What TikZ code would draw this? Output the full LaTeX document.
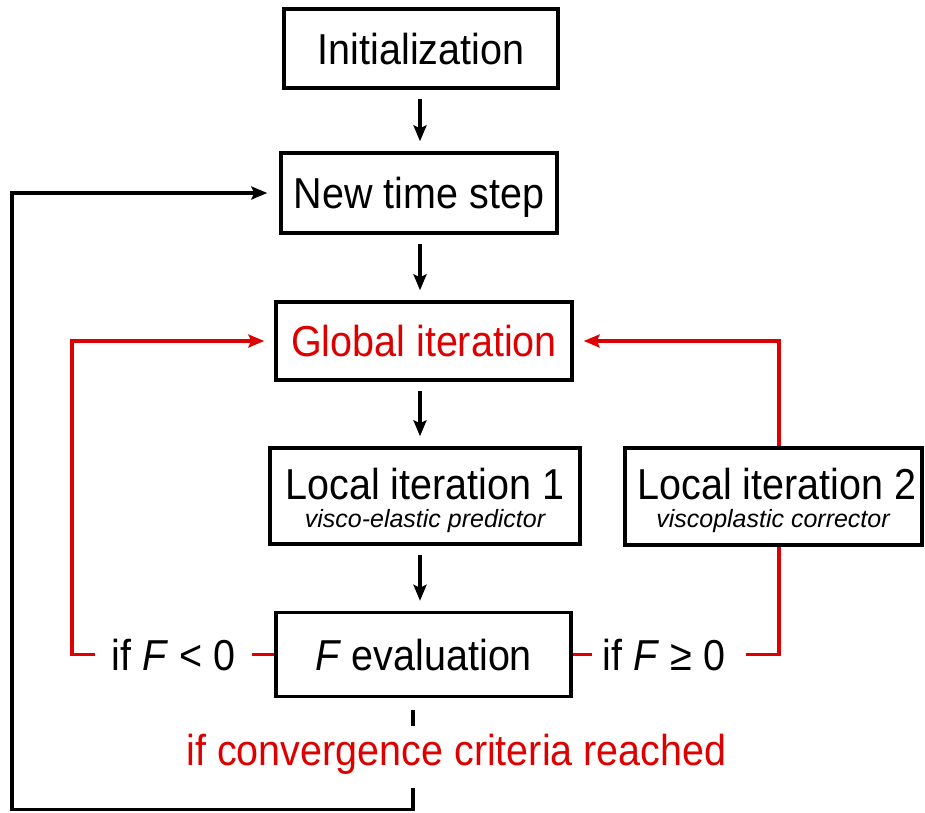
\documentclass[tikz,border=0pt]{standalone}
\usepackage{fontspec}
\setmainfont{Liberation Sans}[FakeStretch=0.912]
\newfontfamily\subfont{Liberation Sans}
\usetikzlibrary{arrows.meta}
\definecolor{myred}{RGB}{222,0,0}
\begin{document}
\begin{tikzpicture}[x=1pt,y=-1pt,
  box/.style={draw, line width=3.4pt, inner sep=0pt, text height=31pt, text depth=0pt, font=\fontsize{43.3}{50}\selectfont},
  txt/.style={inner sep=0pt, font=\fontsize{43.3}{50}\selectfont},
  sub/.style={inner sep=0pt, font=\subfont\fontsize{25}{30}\selectfont\itshape},
  conn/.style={line width=3.4pt},
  arr/.style={conn, -{Stealth[length=16pt,width=13pt,inset=3pt]}},
  redl/.style={conn, draw=myred},
  redarr/.style={arr, draw=myred}]
\useasboundingbox (0,0) rectangle (925,812);
% boxes
\node[box, minimum width=274pt, minimum height=79pt] (init) at (421,48.5) {Initialization};
\node[box, minimum width=276pt, minimum height=80pt] (newt) at (419,193) {New time step};
\node[box, minimum width=296pt, minimum height=78pt, text=myred] (glob) at (424,341) {Global iteration};
\node[box, minimum width=310pt, minimum height=96pt] (li1) at (425,496) {};
\node[txt, anchor=base, text depth=0pt] (li1t) at (425,499.5) {Local iteration 1};
\node[sub, anchor=base, text height=14pt] (li1s) at (425,527) {visco-elastic predictor};
\node[box, minimum width=297pt, minimum height=97pt] (li2) at (773.5,496.5) {};
\node[txt, anchor=base, text depth=0pt] (li2t) at (777,499.5) {Local iteration 2};
\node[sub, anchor=base, text height=14pt] (li2s) at (773,527) {viscoplastic corrector};
\node[box, minimum width=295pt, minimum height=84pt] (feval) at (423.5,654.5) {\textit{F} evaluation};
% labels
\node[txt, text height=31pt, text depth=0pt, inner xsep=16pt] (ifneg) at (173.5,654.5) {if \textit{F} < 0};
\node[txt, text height=31pt, text depth=0pt, inner xsep=11pt] (ifpos) at (664,654.5) {if \textit{F} ≥ 0};
\node[txt, text=myred, anchor=base] (conv) at (456.5,765) {if convergence criteria reached};
% helper coordinates
\coordinate (ax) at (420,0);
\coordinate (lx) at (72,0);
\coordinate (rx) at (779,0);
\coordinate (bx) at (12,0);
\coordinate (dash1) at (413,710);
\coordinate (dash2) at (413,726);
\coordinate (low1) at (413,788);
\coordinate (low2) at (413,809.5);
% main vertical arrows
\draw[arr, shorten <=9pt, shorten >=10pt] (init.south -| ax) -- (newt.north -| ax);
\draw[arr, shorten <=9pt, shorten >=10pt] (newt.south -| ax) -- (glob.north -| ax);
\draw[arr, shorten <=9pt, shorten >=10pt] (glob.south -| ax) -- (li1.north -| ax);
\draw[arr, shorten <=9pt, shorten >=10pt] (li1.south -| ax) -- (feval.north -| ax);
% red loops
\draw[redl] (feval.west) -- (ifneg.east);
\draw[redarr] (ifneg.west) -- (ifneg.west -| lx) |- ([xshift=-10pt]glob.west);
\draw[redl] (feval.east) -- (ifpos.west);
\draw[redl] ([xshift=10pt]ifpos.east) -| (li2.south -| rx);
\draw[redarr] (li2.north -| rx) |- ([xshift=10pt]glob.east);
% black outer loop
\draw[conn] (dash1) -- (dash2);
\draw[arr] (low1) -- (low2) -- (low2 -| bx) |- ([xshift=-12pt]newt.west);
\end{tikzpicture}
\end{document}
